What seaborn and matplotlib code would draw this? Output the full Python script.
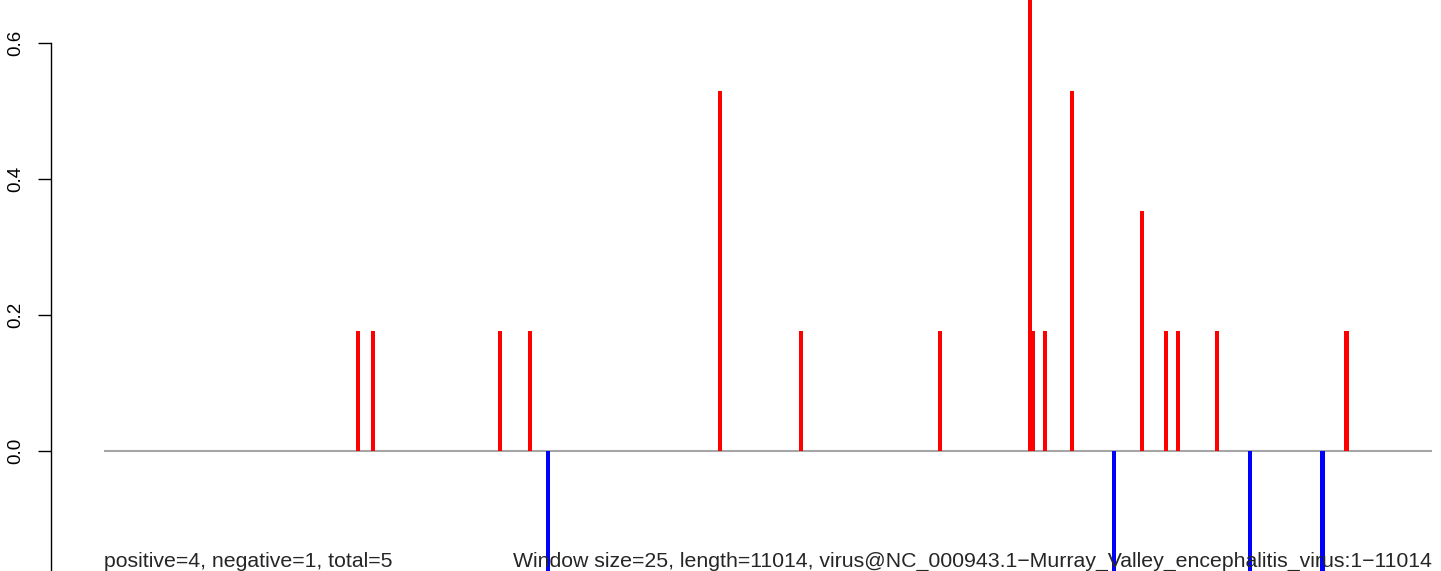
import matplotlib
matplotlib.use('Agg')
import matplotlib.pyplot as plt
import seaborn as sns
import pandas as pd

# window start positions along the genome and their scores
positions = [2111, 2235, 3288, 3536, 3685, 5111, 5783, 6935, 7681, 7706,
             7806, 8030, 8378, 8610, 8809, 8908, 9232, 9506, 10103, 10302]
scores = [0.176, 0.176, 0.176, 0.176, -0.176, 0.529, 0.176, 0.176, 0.706, 0.176,
          0.176, 0.529, -0.176, 0.353, 0.176, 0.176, 0.176, -0.176, -0.176, 0.176]
strand = ['+' if s > 0 else '-' for s in scores]

genome_len = 11014
y_ticks = [-0.2, 0.0, 0.2, 0.4, 0.6]
y_labels = ["\u22120.2", "0.0", "0.2", "0.4", "0.6"]
left_note = "positive=4, negative=1, total=5"
right_note = ("Window size=25, length=11014, "
              "virus@NC_000943.1\u2212Murray_Valley_encephalitis_virus:1\u221211014")

df = pd.DataFrame({"position": positions, "score": scores, "strand": strand})

sns.set_style("white")
plt.rcParams['font.family'] = ['Liberation Sans', 'DejaVu Sans']

W, H = 1441, 571
fig = plt.figure(figsize=(W / 100, H / 100), dpi=100)
ax = fig.add_axes([51 / W, 0, 1 - 51 / W, 1])

# px per genome unit, from the grey baseline spanning pixels 103.5..1432
sc = (1432 - 103.5) / (genome_len - 1)
bar_units = 4.8 / sc
min_gap = min(b - a for a, b in zip(sorted(positions), sorted(positions)[1:]))

ax.hlines(0, 1, genome_len, color="#a6a6a6", linewidth=1.5, zorder=1)
sns.barplot(data=df, x="position", y="score", hue="strand",
            palette={"+": "#ff0000", "-": "#0000ff"}, native_scale=True,
            width=bar_units / min_gap, saturation=1, errorbar=None,
            dodge=False, legend=False, linewidth=0, ax=ax, zorder=2)

for s in ["top", "right", "bottom"]:
    ax.spines[s].set_visible(False)
ax.spines["left"].set_bounds(-0.2, 0.6)
ax.spines["left"].set_linewidth(1.0)
ax.spines["left"].set_color("black")
ax.set_xticks([])
ax.set_yticks(y_ticks)
ax.set_yticklabels(y_labels, rotation=90, va="center")
ax.tick_params(axis="y", left=True, length=9.5, width=1.0, pad=9.5, labelsize=13.5,
               color="black", labelcolor="black")
ax.set_xlabel("")
ax.set_ylabel("")

# limits after the ticks, so the -0.2 tick does not widen the view
ax.set_xlim(1 - (103.5 - 51) / sc, 1 + (W - 103.5) / sc)
ax.set_ylim(-(H - 451) / 680, 451 / 680)

ax.text(1, -(567 - 451) / 680, left_note, ha="left", va="baseline", fontsize=15.3,
        clip_on=False)
ax.text(genome_len, -(567 - 451) / 680, right_note, ha="right", va="baseline",
        fontsize=15.3, clip_on=False)

fig.savefig("out.png", dpi=100)
